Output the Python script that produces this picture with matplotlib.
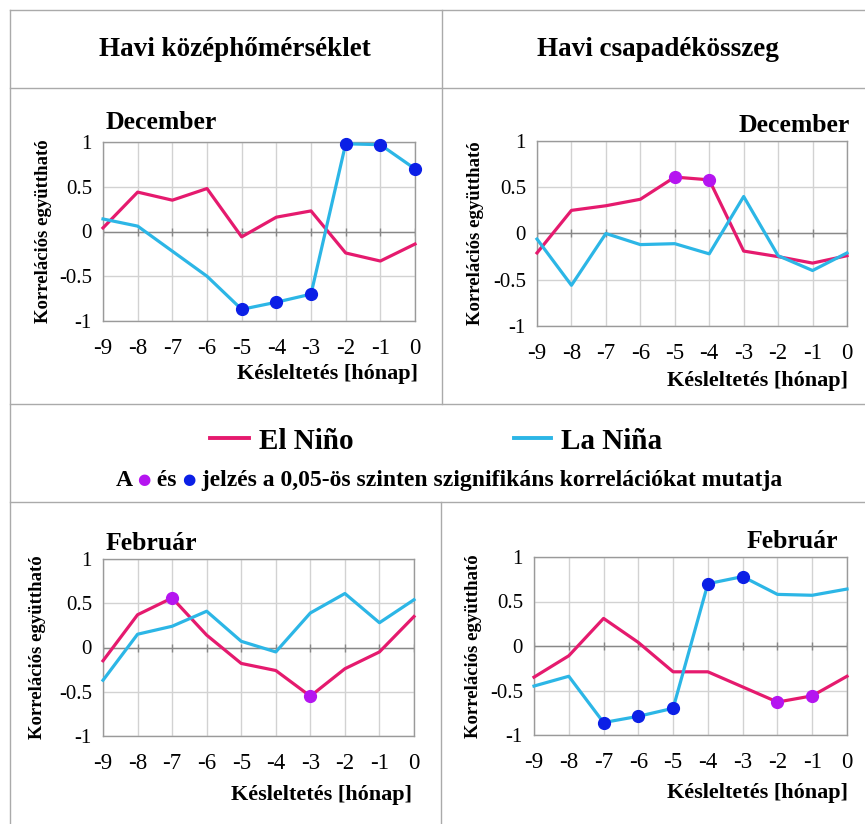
import matplotlib.pyplot as plt
from matplotlib.lines import Line2D

plt.rcParams['font.family'] = ['Liberation Serif', 'DejaVu Sans']
plt.rcParams['axes.unicode_minus'] = False

W, H = 865, 824

lags = [-9, -8, -7, -6, -5, -4, -3, -2, -1, 0]
y_ticks = [-1, -0.5, 0, 0.5, 1]
y_tick_labels = ['-1', '-0.5', '0', '0.5', '1']

# December - havi középhőmérséklet
dec_temp_nino = [0.04, 0.44, 0.35, 0.48, -0.06, 0.16, 0.23, -0.24, -0.33, -0.14]
dec_temp_nina = [0.14, 0.06, -0.22, -0.50, -0.87, -0.79, -0.70, 0.98, 0.97, 0.70]
dec_temp_sig_nino = []
dec_temp_sig_nina = [-5, -4, -3, -2, -1, 0]

# December - havi csapadékösszeg
dec_prec_nino = [-0.21, 0.25, 0.30, 0.37, 0.61, 0.58, -0.19, -0.25, -0.32, -0.24]
dec_prec_nina = [-0.06, -0.56, 0.0, -0.12, -0.11, -0.22, 0.40, -0.24, -0.40, -0.21]
dec_prec_sig_nino = [-5, -4]
dec_prec_sig_nina = []

# Február - havi középhőmérséklet
feb_temp_nino = [-0.15, 0.37, 0.56, 0.14, -0.18, -0.26, -0.55, -0.24, -0.05, 0.35]
feb_temp_nina = [-0.37, 0.15, 0.24, 0.41, 0.07, -0.05, 0.39, 0.61, 0.28, 0.54]
feb_temp_sig_nino = [-7, -3]
feb_temp_sig_nina = []

# Február - havi csapadékösszeg
feb_prec_nino = [-0.35, -0.11, 0.31, 0.04, -0.29, -0.29, -0.46, -0.63, -0.56, -0.34]
feb_prec_nina = [-0.45, -0.34, -0.86, -0.79, -0.70, 0.70, 0.78, 0.58, 0.57, 0.64]
feb_prec_sig_nino = [-2, -1]
feb_prec_sig_nina = [-7, -6, -5, -4, -3]

nino_color = '#E51A6E'
nina_color = '#2CB6E6'
nino_sig_color = '#B515F0'
nina_sig_color = '#0B1FE6'
frame_color = '#aaaaaa'

fig = plt.figure(figsize=(W / 100, H / 100), dpi=100)

# overlay in pixel coordinates for the frame and free texts
ov = fig.add_axes([0, 0, 1, 1])
ov.set_xlim(0, W)
ov.set_ylim(H, 0)
ov.axis('off')

for xs, ys in [([10, W], [10, 10]), ([10, 10], [10, H]), ([10, W], [88, 88]),
               ([442, 442], [10, 404]), ([10, W], [404, 404]), ([10, W], [502, 502]),
               ([441, 441], [502, H])]:
    ov.add_line(Line2D(xs, ys, color=frame_color, lw=1))

ov.text(235, 49, 'Havi középhőmérséklet', ha='center', va='center',
        fontsize=19.5, fontweight='bold')
ov.text(658, 49, 'Havi csapadékösszeg', ha='center', va='center',
        fontsize=19.5, fontweight='bold')

# legend row
ov.add_line(Line2D([210, 249], [438, 438], color=nino_color, lw=2.8))
ov.text(259, 441, 'El Niño', ha='left', va='center', fontsize=21, fontweight='bold')
ov.add_line(Line2D([514, 551], [438, 438], color=nina_color, lw=2.8))
ov.text(561, 441, 'La Niña', ha='left', va='center', fontsize=21, fontweight='bold')

# note with coloured dots
pieces = [('A ', 'black', 'Liberation Serif', 17),
          ('●', nino_sig_color, 'DejaVu Sans', 11),
          (' és ', 'black', 'Liberation Serif', 17),
          ('●', nina_sig_color, 'DejaVu Sans', 11),
          (' jelzés a 0,05-ös szinten szignifikáns korrelációkat mutatja',
           'black', 'Liberation Serif', 17)]
first = ov.text(116, 486, pieces[0][0], color=pieces[0][1], family=pieces[0][2],
                fontsize=pieces[0][3], fontweight='bold', ha='left', va='baseline')
prev = first
for s, c, fam, fs in pieces[1:]:
    if s == '●':
        prev = ov.annotate(s, xy=(1, 0.55), xycoords=(prev, first), color=c,
                           family=fam, fontsize=fs, ha='left', va='center')
    else:
        prev = ov.annotate(s, xy=(1, 0), xycoords=(prev, first), color=c,
                           family=fam, fontsize=fs, fontweight='bold',
                           ha='left', va='bottom')


def panel(box, nino, nina, sig_nino, sig_nina, title, title_pos, title_ha,
          xlab_pos, ylab_x):
    l, t, r, b = box
    ax = fig.add_axes([l / W, 1 - b / H, (r - l) / W, (b - t) / H])
    ax.plot(lags, nino, color=nino_color, lw=2.3, clip_on=False, zorder=3)
    ax.plot(lags, nina, color=nina_color, lw=2.3, clip_on=False, zorder=3)
    ax.plot(sig_nino, [nino[lags.index(v)] for v in sig_nino], 'o',
            color=nino_sig_color, ms=8.5, clip_on=False, zorder=4)
    ax.plot(sig_nina, [nina[lags.index(v)] for v in sig_nina], 'o',
            color=nina_sig_color, ms=8.5, clip_on=False, zorder=4)
    ax.axhline(0, color='#888888', lw=1, zorder=2)
    ax.plot(lags, [0] * len(lags), '|', color='#888888', ms=6, mew=1, zorder=2)
    ax.set_xlim(-9, 0)
    ax.set_ylim(-1, 1)
    ax.set_xticks(lags)
    ax.set_xticklabels([str(v) for v in lags])
    ax.set_yticks(y_ticks)
    ax.set_yticklabels(y_tick_labels)
    ax.tick_params(axis='x', length=0, pad=12, labelsize=16.5)
    ax.tick_params(axis='y', length=0, pad=8, labelsize=15)
    ax.grid(True, color='#d2d2d2', lw=1)
    ax.set_axisbelow(True)
    for sp in ax.spines.values():
        sp.set_color('#9a9a9a')
        sp.set_linewidth(1)
    ov.text(title_pos[0], title_pos[1], title, ha=title_ha, va='center',
            fontsize=18.5, fontweight='bold')
    ov.text(xlab_pos[0], xlab_pos[1], 'Késleltetés [hónap]', ha='right',
            va='center', fontsize=16, fontweight='bold')
    ov.text(ylab_x, (t + b) / 2, 'Korrelációs együttható', ha='center',
            va='center', rotation=90, fontsize=13.5, fontweight='bold')
    return ax


panel((103, 142, 415, 321), dec_temp_nino, dec_temp_nina, dec_temp_sig_nino,
      dec_temp_sig_nina, 'December', (106, 122), 'left', (418, 374), 44)
panel((537, 141, 847, 326), dec_prec_nino, dec_prec_nina, dec_prec_sig_nino,
      dec_prec_sig_nina, 'December', (850, 125), 'right', (848, 381), 476)
panel((103, 559, 414, 736), feb_temp_nino, feb_temp_nina, feb_temp_sig_nino,
      feb_temp_sig_nina, 'Február', (106, 543), 'left', (412, 795), 38)
panel((534, 557, 847, 735), feb_prec_nino, feb_prec_nina, feb_prec_sig_nino,
      feb_prec_sig_nina, 'Február', (838, 542), 'right', (848, 793), 473)

fig.savefig('out.png', dpi=100)
plt.close(fig)
